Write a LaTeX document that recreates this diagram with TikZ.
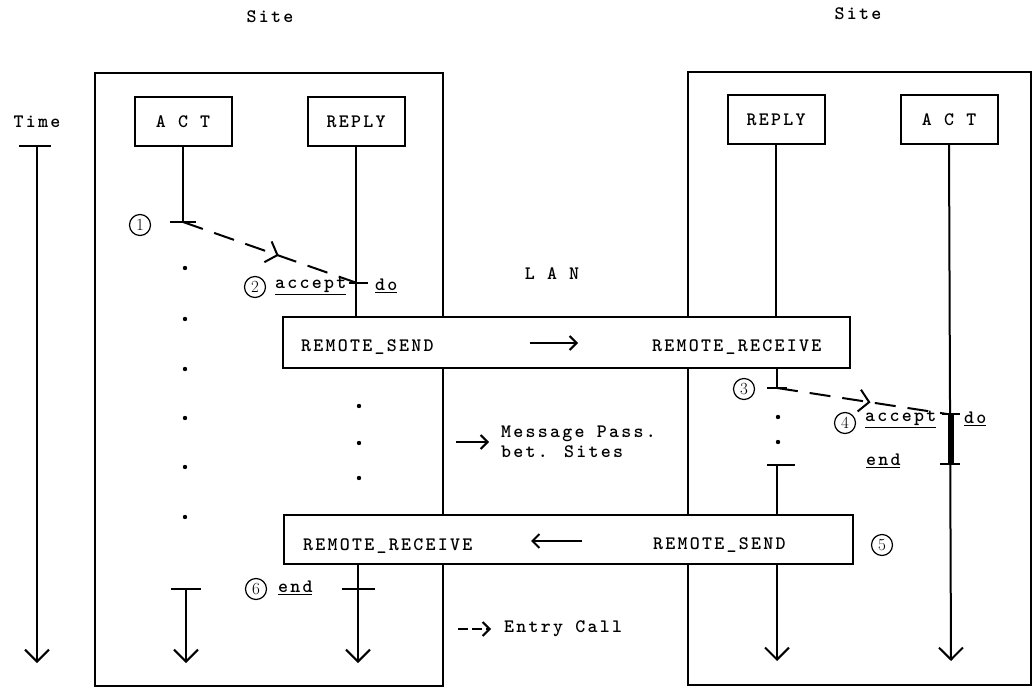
\documentclass[tikz,border=0pt]{standalone}
\usepackage{fontspec}
\newfontfamily\typew{lmmonolt10-bold.otf}[LetterSpace=12]
\usepackage{tikz}
\usetikzlibrary{arrows.meta,positioning,decorations.markings}

\begin{document}
\begin{tikzpicture}[x=1pt, y=-1pt, line width=2pt,
    font=\typew\fontsize{19}{20}\selectfont,
    proc/.style = {draw, minimum width=97pt, minimum height=49pt, inner sep=0pt},
    lanbox/.style = {draw, fill=white, inner sep=0pt},
    num/.style = {draw, circle, line width=1.2pt, minimum size=21pt, inner sep=0pt,
        font=\rmfamily\fontsize{17}{17}\selectfont},
    txt/.style = {anchor=west, inner sep=0pt},
    life/.style = {-{Straight Barb[length=12pt,width=24pt]}},
    small/.style = {-{Straight Barb[length=7pt,width=14pt]}},
    call/.style = {dash pattern=on 21pt off 12pt, postaction={decorate},
        decoration={markings, mark=at position 0.55 with {\arrow{Straight Barb[length=10pt,width=22pt]}}}}]
    \useasboundingbox (0,0) rectangle (1033,687);

    \node (siteL) at (270,17) {Site};
    \node (siteR) at (858,14) {Site};
    \node (time) at (37,122) {Time};

    \draw (95,73) rectangle (443,686);
    \draw (688,72) rectangle (1031,685);

    \node[lanbox, minimum width=567pt, minimum height=51pt] (lanTop) at (566.5,342.5) {};
    \node[lanbox, minimum width=569pt, minimum height=49pt] (lanBot) at (568.5,539.5) {};
    \node (lan) at (552,274) {L A N};

    \node[proc] (actL) at (183,121.5) {A C T};
    \node[proc] (replyL) at (356,121.5) {REPLY};
    \node[proc] (replyR) at (776,120) {REPLY};
    \node[proc] (actR) at (949,119.5) {A C T};

    \coordinate (t0) at (37,146);
    \coordinate (t1) at (37,663);
    \draw[life] (t0) -- (t1);
    \draw ([xshift=-18]t0) -- ([xshift=14]t0);

    \coordinate (c1) at (183,222);
    \coordinate (c2) at (357,283);
    \coordinate (c3) at (777,388);
    \coordinate (c4) at (951,414);
    \coordinate (c4b) at (951,464);
    \coordinate (c5) at (777,465);
    \coordinate (c6) at (186,589);
    \coordinate (c7) at (358,589);
    \coordinate (e6) at (186,663);
    \coordinate (e7) at (358,663);
    \coordinate (e5) at (777,661);
    \coordinate (e4) at (951,661);

    \draw (actL.south) -- (c1);
    \draw ([xshift=-13]c1) -- ([xshift=13]c1);
    \foreach \y in {268,319,369,418,467,517}
        \fill (185,\y) circle (2.2);
    \draw ([xshift=-15]c6) -- ([xshift=15]c6);
    \draw[life] (c6) -- (e6);

    \draw (replyL.south) -- (replyL.south |- lanTop.north);
    \draw ([xshift=-8]c2) -- ([xshift=11]c2);
    \draw[call] (c1) -- (c2);
    \foreach \y in {406,443,478}
        \fill (359,\y) circle (2.2);
    \draw[life] (lanBot.south -| c7) -- (e7);
    \draw ([xshift=-16]c7) -- ([xshift=17]c7);

    \draw (lanTop.south -| c3) -- (c3);
    \draw ([xshift=-10]c3) -- ([xshift=10]c3);
    \foreach \y in {417,442}
        \fill (778,\y) circle (2.2);
    \draw ([xshift=-10]c5) -- ([xshift=18]c5);
    \draw (c5) -- (lanBot.north -| c5);
    \draw[life] (lanBot.south -| c5) -- (e5);

    \draw (replyR.south) -- (replyR.south |- lanTop.north);
    \draw[life] (actR.south) -- (e4);
    \draw[line width=6pt] (c4) -- (c4b);
    \draw ([xshift=-9]c4) -- ([xshift=9]c4);
    \draw ([xshift=-11]c4b) -- ([xshift=9]c4b);
    \draw[call] (c3) -- ([xshift=-4]c4);

    \node[txt] (sendL) at (300,347) {REMOTE\_SEND};
    \node[txt] (recvR) at (651,347) {REMOTE\_RECEIVE};
    \coordinate (lanA) at (530,343);
    \coordinate (lanB) at (578,343);
    \draw[small] (lanA) -- (lanB);

    \node[txt] (recvL) at (302,546) {REMOTE\_RECEIVE};
    \node[txt] (sendR) at (652,545) {REMOTE\_SEND};
    \coordinate (lanC) at (582,541);
    \coordinate (lanD) at (531,541);
    \draw[small] (lanC) -- (lanD);

    \node[num] (n1) at (140,225) {1};
    \node[num] (n2) at (255,287) {2};
    \node[num] (n3) at (744,389) {3};
    \node[num] (n4) at (845,423) {4};
    \node[num] (n5) at (882,545) {5};
    \node[num] (n6) at (256,589) {6};

    \node[txt] (accL) at (274,286) {\underline{accept}};
    \node[txt] (doL) at (374,286) {\underline{do}};
    \node[txt] (endL) at (277,588) {\underline{end}};
    \node[txt] (accR) at (864,419) {\underline{accept}};
    \node[txt] (doR) at (963,419) {\underline{do}};
    \node[txt] (endR) at (865,461) {\underline{end}};

    \node[txt, align=left] (msg) at (500,442) {Message Pass.\\bet. Sites};
    \coordinate (msgA) at (456,442);
    \draw[small] (msgA) -- ([xshift=-11]msg.west);

    \node[txt] (entry) at (503,629) {Entry Call};
    \coordinate (entA) at (458,629);
    \draw[small, dash pattern=on 10pt off 4pt] (entA) -- ([xshift=-12]entry.west);
\end{tikzpicture}
\end{document}
